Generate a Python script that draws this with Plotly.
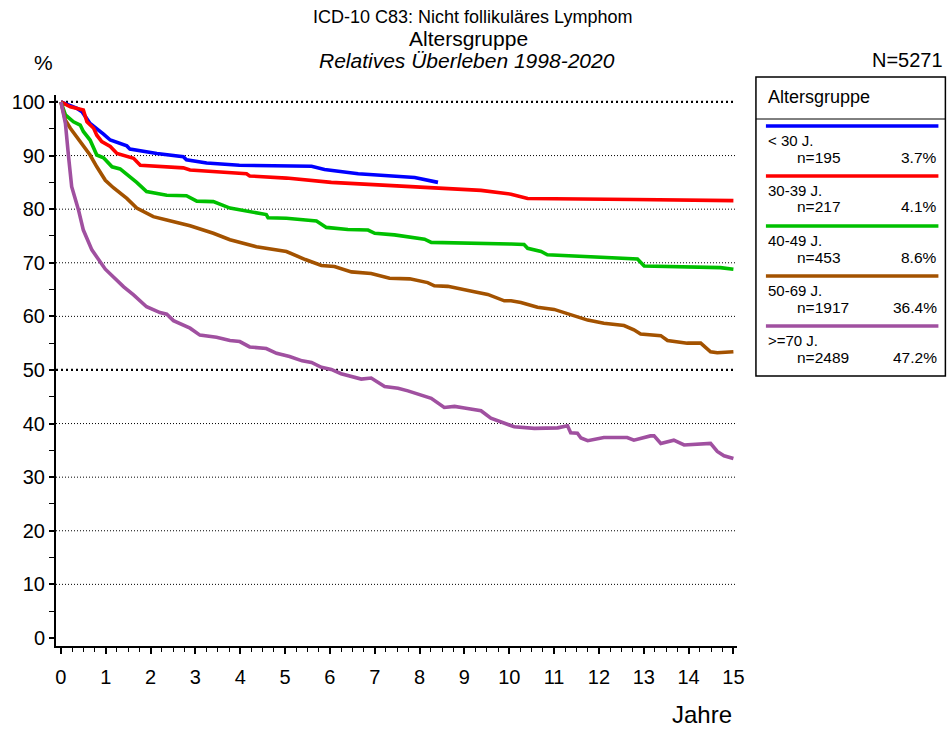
import plotly.graph_objects as go

# Survival curves by age group (years since diagnosis, relative survival in %)
groups = ["< 30 J.", "30-39 J.", "40-49 J.", "50-69 J.", ">=70 J."]
group_n = [195, 217, 453, 1917, 2489]
colors = ["#0000FF", "#FF0000", "#00C000", "#A35200", "#A050A0"]

blue_x = [0, 0.36, 0.47, 0.65, 0.95, 1.10, 1.47, 1.54, 2.14, 2.73, 2.80, 3.25, 3.98, 5.03,
          5.59, 5.88, 6.63, 7.89, 8.41]
blue_y = [100, 98.8, 98.2, 96.0, 94.0, 92.9, 91.8, 91.2, 90.4, 89.8, 89.2, 88.6, 88.2, 88.1,
          88.0, 87.4, 86.6, 85.9, 85.0]

red_x = [0, 0.21, 0.50, 0.58, 0.73, 0.80, 0.91, 1.10, 1.25, 1.62, 1.77, 2.73, 2.88, 4.14,
         4.21, 5.03, 6.03, 7.89, 9.37, 10.04, 10.41, 12.78, 15.0]
red_y = [100, 99.1, 98.5, 96.3, 95.1, 93.8, 92.6, 91.7, 90.4, 89.5, 88.2, 87.7, 87.3, 86.6,
         86.2, 85.8, 85.0, 84.2, 83.5, 82.8, 82.0, 81.8, 81.6]

green_x = [0, 0.10, 0.28, 0.43, 0.50, 0.65, 0.80, 0.95, 1.14, 1.32, 1.69, 1.91, 2.36, 2.80,
           3.03, 3.40, 3.77, 4.29, 4.58, 4.62, 5.03, 5.70, 5.92, 6.40, 6.85, 7.00, 7.44, 8.11,
           8.26, 10.04, 10.33, 10.41, 10.71, 10.85, 12.86, 13.01, 14.71, 15.0]
green_y = [100, 97.6, 96.3, 95.7, 94.5, 92.9, 90.1, 89.6, 87.9, 87.5, 85.0, 83.3, 82.6, 82.5,
           81.5, 81.4, 80.2, 79.4, 79.0, 78.4, 78.3, 77.8, 76.6, 76.2, 76.1, 75.5, 75.2, 74.4,
           73.8, 73.5, 73.4, 72.7, 72.1, 71.5, 70.7, 69.4, 69.1, 68.8]

brown_x = [0, 0.10, 0.21, 0.43, 0.65, 0.80, 0.99, 1.17, 1.47, 1.69, 2.06, 2.36, 2.88, 3.40,
           3.77, 4.36, 5.03, 5.45, 5.81, 6.10, 6.48, 6.92, 7.33, 7.78, 8.18, 8.33, 8.63, 9.22,
           9.37, 9.52, 9.89, 10.04, 10.26, 10.63, 11.00, 11.75, 12.11, 12.56, 12.78, 12.93,
           13.38, 13.53, 13.97, 14.27, 14.49, 14.64, 15.0]
brown_y = [100, 96.6, 95.1, 92.6, 90.1, 87.9, 85.4, 84.0, 82.0, 80.2, 78.6, 78.0, 76.9, 75.5,
           74.3, 73.0, 72.1, 70.6, 69.5, 69.3, 68.3, 68.0, 67.1, 67.0, 66.3, 65.7, 65.6, 64.6,
           64.4, 64.1, 62.9, 62.9, 62.6, 61.7, 61.3, 59.3, 58.7, 58.3, 57.5, 56.7,
           56.4, 55.5, 55.0, 55.0, 53.4, 53.2, 53.4]

purple_x = [0, 0.10, 0.17, 0.24, 0.39, 0.50, 0.69, 0.99, 1.40, 1.62, 1.91, 2.06, 2.21, 2.36,
            2.51, 2.88, 3.10, 3.47, 3.77, 3.99, 4.21, 4.58, 4.81, 5.10, 5.38, 5.59, 5.81, 6.03,
            6.25, 6.70, 6.92, 7.22, 7.52, 7.74, 8.26, 8.55, 8.78, 9.00, 9.37, 9.59, 10.11,
            10.56, 11.08, 11.30, 11.37, 11.52, 11.60, 11.75, 12.11, 12.63, 12.78, 13.15, 13.23,
            13.38, 13.67, 13.90, 14.42, 14.49, 14.64, 14.79, 15.0]
purple_y = [100, 96.0, 89.8, 84.2, 79.9, 76.1, 72.4, 68.8, 65.5, 64.0, 61.8, 61.3, 60.7, 60.4,
            59.2, 57.8, 56.5, 56.1, 55.5, 55.3, 54.3, 54.0, 53.1, 52.5, 51.7, 51.4, 50.5, 50.1,
            49.3, 48.3, 48.5, 46.9, 46.6, 46.1, 44.7, 43.0, 43.2, 42.9, 42.4, 41.0, 39.4,
            39.1, 39.2, 39.6, 38.3, 38.2, 37.3, 36.8, 37.4, 37.4, 36.9, 37.7, 37.7,
            36.3, 36.9, 36.0, 36.3, 36.3, 34.8, 34.0, 33.5]

series_x = [blue_x, red_x, green_x, brown_x, purple_x]
series_y = [blue_y, red_y, green_y, brown_y, purple_y]

y_ticks = list(range(0, 101, 10))
x_ticks = list(range(0, 16))

W, H = 948, 729
L, R, T, B = 54, 211, 95, 83
PW, PH = W - L - R, H - T - B

FONT = "Liberation Sans, Arial, sans-serif"


def px(x):
    return (x - L) / PW


def py(y):
    return (H - B - y) / PH


fig = go.Figure()

for name, xs, ys, col in zip(groups, series_x, series_y, colors):
    fig.add_trace(go.Scatter(x=xs, y=ys, mode="lines", name=name,
                             line=dict(color=col, width=3.6), showlegend=False,
                             hoverinfo="skip"))

shapes = []
# dotted horizontal grid, heavier at 50 and 100
for v in y_ticks[1:]:
    heavy = v in (50, 100)
    shapes.append(dict(type="line", xref="paper", yref="y", x0=0, x1=px(735), y0=v, y1=v,
                       line=dict(color="black", width=2.2 if heavy else 1,
                                 dash="2px,3px" if heavy else "1px,2px"),
                       layer="below"))

# legend box
shapes.append(dict(type="rect", xref="paper", yref="paper", x0=px(756), x1=px(946),
                   y0=py(376), y1=py(77), line=dict(color="black", width=1.5)))
shapes.append(dict(type="line", xref="paper", yref="paper", x0=px(756), x1=px(946),
                   y0=py(119), y1=py(119), line=dict(color="black", width=1)))

annotations = [
    dict(text="ICD-10 C83: Nicht follikuläres Lymphom", x=px(472), y=py(17),
         font=dict(size=18)),
    dict(text="Altersgruppe", x=px(468), y=py(38), font=dict(size=21)),
    dict(text="<i>Relatives Überleben 1998-2020</i>", x=px(466), y=py(60),
         font=dict(size=21)),
    dict(text="%", x=px(41), y=py(62), font=dict(size=21)),
    dict(text="N=5271", x=px(946), y=py(60), xanchor="right", font=dict(size=20)),
    dict(text="Jahre", x=px(734), y=py(714), xanchor="right", font=dict(size=24)),
    dict(text="Altersgruppe", x=px(766), y=py(97), xanchor="left", font=dict(size=18)),
]

total = sum(group_n)
for i, (name, n, col) in enumerate(zip(groups, group_n, colors)):
    y0 = 126 + 50 * i
    shapes.append(dict(type="line", xref="paper", yref="paper", x0=px(766), x1=px(939),
                       y0=py(y0), y1=py(y0), line=dict(color=col, width=3.5)))
    annotations.append(dict(text=name, x=px(766), y=py(y0 + 14), xanchor="left",
                            font=dict(size=15)))
    annotations.append(dict(text=f"n={n}", x=px(795), y=py(y0 + 31), xanchor="left",
                            font=dict(size=15.5)))
    annotations.append(dict(text=f"{100 * n / total:.1f}%", x=px(940), y=py(y0 + 31),
                            xanchor="right", font=dict(size=15.5)))

for a in annotations:
    a.update(xref="paper", yref="paper", showarrow=False, yanchor="middle")
    a.setdefault("xanchor", "center")
    a["font"].update(family=FONT, color="black")

fig.update_layout(
    width=W, height=H,
    margin=dict(l=L, r=R, t=T, b=B),
    paper_bgcolor="white", plot_bgcolor="white",
    font=dict(family=FONT, color="black"),
    shapes=shapes, annotations=annotations,
    xaxis=dict(range=[-0.11, 15.08], tickvals=x_ticks, showgrid=False, zeroline=False,
               showline=True, linecolor="black", linewidth=2,
               ticks="outside", ticklen=6, tickwidth=1.5, tickcolor="black",
               tickfont=dict(size=20), ticklabelstandoff=6,
               minor=dict(dtick=0.25, ticks="outside", ticklen=4, tickwidth=1.2,
                          tickcolor="black", showgrid=False)),
    yaxis=dict(range=[-1.5, 101.3], tickvals=y_ticks, showgrid=False, zeroline=False,
               showline=True, linecolor="black", linewidth=2,
               ticks="outside", ticklen=5, tickwidth=1.5, tickcolor="black",
               tickfont=dict(size=20),
               minor=dict(dtick=5, ticks="outside", ticklen=5, tickwidth=1.2,
                          tickcolor="black", showgrid=False)),
)

fig.write_html("out.html")
